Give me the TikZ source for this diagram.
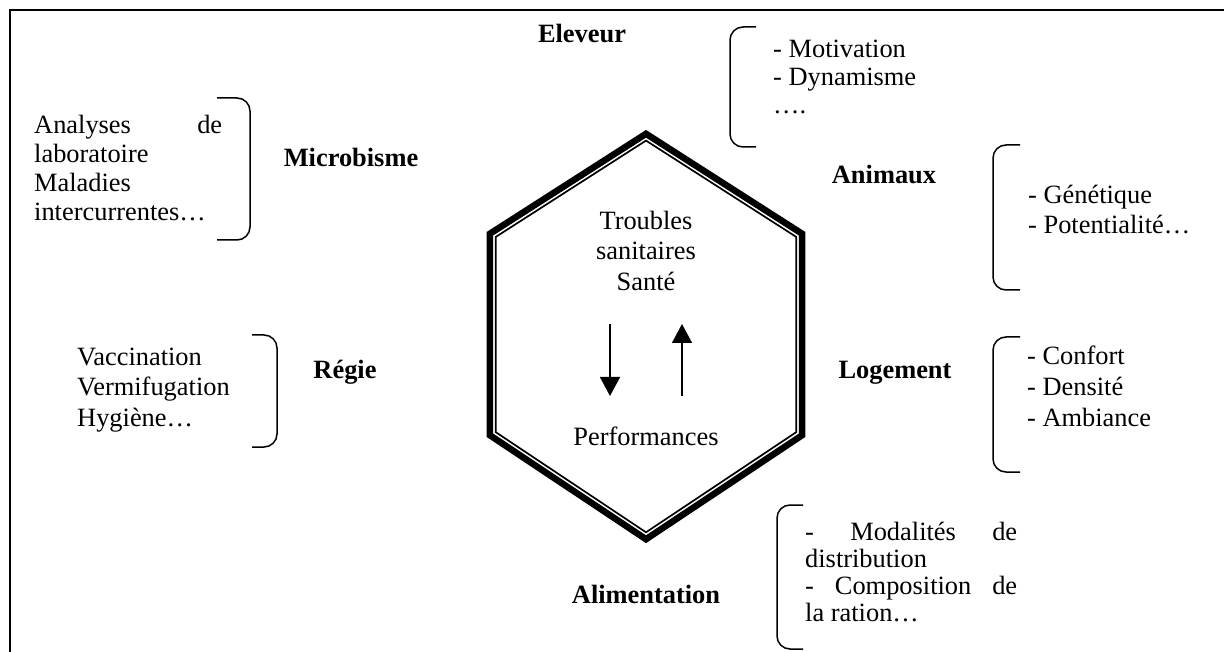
\documentclass[tikz,border=0pt]{standalone}
\usepackage{fontspec}
\setmainfont{Liberation Serif}
\usetikzlibrary{arrows.meta}
\newcommand\myst{\rule{0pt}{20pt}}
\begin{document}
\begin{tikzpicture}[x=1pt,y=-1pt,
  txt/.style={inner sep=0pt, align=left, anchor=north west},
  ctxt/.style={inner sep=0pt, align=center, anchor=north},
  lbl/.style={inner sep=0pt, font=\fontsize{26.4}{29}\selectfont\bfseries, anchor=base},
  brk/.style={line width=1.5pt, rounded corners=13pt},
  arr/.style={line width=1.5pt, -{Triangle[width=20pt,length=19pt]}},
  frame/.style={line width=2pt},
]
\useasboundingbox (0,0) rectangle (1224,652);
\draw[frame] (10,652) -- (10,10) -- (1224,10);

% hexagon
\draw[line width=6.5pt, line join=miter] (646,133.8) -- (802.2,233.8) -- (802.2,435.2) -- (646,539.2) -- (489.8,435.2) -- (489.8,233.8) -- cycle;
\draw[line width=1.7pt, line join=miter] (646,140.6) -- (796.2,236.9) -- (796.2,432.2) -- (646,532.3) -- (495.8,432.2) -- (495.8,236.9) -- cycle;

\node[ctxt, font=\fontsize{26.4}{30.5}\selectfont] (sante) at (646,209) {\myst Troubles\\sanitaires\\Santé};
\node[inner sep=0pt, font=\fontsize{26.4}{29}\selectfont, anchor=base] (perf) at (646,445) {Performances};
\coordinate (d1) at (610,324); \coordinate (d2) at (610,396);
\coordinate (u1) at (682,396); \coordinate (u2) at (682,324);
\draw[arr] (d1) -- (d2);
\draw[arr] (u1) -- (u2);

% labels
\node[lbl] (eleveur) at (582,43) {Eleveur};
\node[lbl] (microbisme) at (351,167) {Microbisme};
\node[lbl] (animaux) at (884,184) {Animaux};
\node[lbl] (regie) at (345,378) {Régie};
\node[lbl] (logement) at (895,378) {Logement};
\node[lbl] (alimentation) at (646,603) {Alimentation};

% lists
\node[txt, font=\fontsize{26.4}{28}\selectfont] (elevlist) at (773,37) {\myst- Motivation\\- Dynamisme\\….};
\node[txt, font=\fontsize{26.4}{29}\selectfont] (microlist) at (34,113) {\myst\hbox to 188pt{Analyses\hfill de}\\laboratoire\\Maladies\\intercurrentes…};
\node[txt, font=\fontsize{26.4}{30}\selectfont] (animlist) at (1028,183) {\myst- Génétique\\- Potentialité…};
\node[txt, font=\fontsize{26.4}{30.5}\selectfont] (regielist) at (77,345) {\myst Vaccination\\Vermifugation\\Hygiène…};
\node[txt, font=\fontsize{26.4}{31}\selectfont] (logelist) at (1027,344) {\myst- Confort\\- Densité\\- Ambiance};
\node[txt, font=\fontsize{26.4}{27}\selectfont] (alimlist) at (805,520) {\myst\hbox to 212pt{-\hfill Modalités\hfill de}\\distribution\\\hbox to 212pt{-\hfill Composition\hfill de}\\la ration…};

% brackets
\draw[brk] (756,27) -- (730,27) -- (730,147) -- (756,147);
\draw[brk] (217,98) -- (250,98) -- (250,240) -- (217,240);
\draw[brk] (1020,145) -- (993,145) -- (993,290) -- (1020,290);
\draw[brk] (252,335) -- (277,335) -- (277,447) -- (252,447);
\draw[brk] (1020,337) -- (993,337) -- (993,472) -- (1020,472);
\draw[brk] (803,505) -- (777,505) -- (777,649) -- (803,649);
\end{tikzpicture}
\end{document}
